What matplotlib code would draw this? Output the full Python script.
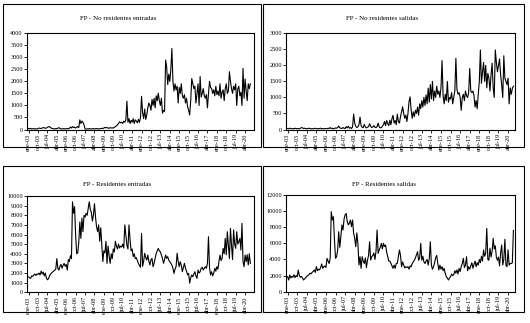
import numpy as np
import matplotlib.pyplot as plt
from matplotlib.patches import Rectangle

# ---------------------------------------------------------------
# datos mensuales (ene-03 ... ), leidos a ojo del grafico original
# ---------------------------------------------------------------
nr_entradas = [
    40, 30, 50, 20, 30, 40, 20, 30, 20, 40, 60, 50,
    40, 60, 80, 70, 50, 60, 90, 110, 120, 80, 50, 40,
    30, 20, 40, 30, 50, 80, 40, 30, 20, 30, 40, 20,
    30, 40, 30, 50, 100, 60, 120, 80, 100, 60, 90, 130,
    80, 400, 250, 350, 300, 200, 20, 10, 30, 20, 40, 30,
    20, 30, 40, 20, 30, 40, 30, 20, 40, 30, 50, 40,
    60, 90, 70, 80, 60, 50, 80, 60, 70, 60, 90, 120,
    150, 200, 250, 320, 280, 300, 250, 350, 300, 400, 1180, 300,
    450, 250, 380, 300, 450, 250, 400, 350, 280, 420, 300, 500,
    1380, 700, 450, 850, 420, 600, 900, 1100, 1000, 800, 1250, 1000,
    1300, 900, 1400, 1200, 1510, 1200, 1000, 1300, 680, 800, 750, 2890,
    2600, 1870, 2300, 2000, 2500, 3370, 2000, 1600, 1900, 1650, 1800, 1100,
    1750, 1500, 1900, 1400, 1300, 1450, 1100, 1300, 950, 800, 600, 1200,
    2120, 1900, 1700, 1800, 1100, 1500, 1900, 1000, 2200, 1350, 1500, 1700,
    1400, 1300, 1450, 900, 1500, 2000, 1750, 1700, 1500, 1650, 1400, 1800,
    1450, 1600, 1400, 1900, 1300, 1550, 1650, 1200, 1700, 1900, 1500, 1600,
    2400, 2000, 1700, 1500, 1800, 1650, 1900, 1000, 1700, 1800, 1400, 1550,
    1000, 2540, 1300, 2100, 1600, 1200, 1900, 1700, 1900,
]

nr_salidas = [
    30, 20, 40, 30, 20, 30, 20, 40, 30, 20, 30, 20,
    40, 60, 50, 30, 40, 30, 20, 30, 40, 30, 20, 30,
    20, 30, 40, 20, 30, 20, 30, 40, 20, 30, 20, 30,
    30, 20, 40, 30, 60, 30, 40, 20, 30, 50, 40, 60,
    110, 50, 40, 30, 60, 40, 30, 90, 50, 100, 40, 60,
    30, 80, 480, 200, 100, 60, 80, 150, 390, 120, 70, 60,
    160, 80, 50, 70, 90, 180, 100, 60, 80, 120, 70, 60,
    90, 200, 80, 50, 60, 100, 150, 250, 120, 280, 180, 120,
    290, 150, 340, 440, 200, 280, 150, 480, 250, 200, 400, 550,
    706, 500, 350, 450, 250, 500, 870, 1020, 600, 350, 550, 400,
    600, 500, 700, 450, 800, 650, 900, 700, 1000, 750, 1080, 800,
    1290, 850, 1400, 950, 1500, 900, 1200, 1000, 1350, 1100, 1200, 1000,
    1300, 2150, 1050, 800, 1100, 900, 1500, 850, 1000, 950, 1150, 800,
    1000, 1200, 2220, 1250, 1100, 1150, 1000, 600, 1000, 1100, 900, 1200,
    1050, 1000, 1150, 1900, 1200, 1150, 1200, 1050, 700, 900, 650, 1100,
    1500, 2480, 1440, 1800, 2090, 1500, 2000, 1300, 1750, 1600, 1200, 1700,
    2070, 1300, 1000, 2480, 2100, 1800, 2000, 2200, 1700, 1400, 1000, 2300,
    1600, 1500, 1400, 1600, 800, 1300, 1100, 1280, 1350,
]

res_entradas = [
    1600, 1500, 1450, 1700, 1650, 1800, 1900, 1750, 1900, 1850, 2000, 1800,
    2200, 1900, 2100, 1700, 2000, 1500, 1300, 1400, 1700, 1900, 2000, 2100,
    2200, 2300, 2400, 3500, 2500, 2300, 2700, 2900, 2500, 2800, 3000, 2700,
    2900, 2300, 3400, 3200, 3800, 3500, 9400, 8200, 8900, 5900, 4000, 4100,
    5200, 7300, 5600, 7700, 6300, 8000, 7800, 8200, 8000, 8700, 9400, 8600,
    8300, 7400, 8000, 9200, 7800, 6800, 6300, 7000, 5300, 6700, 5000, 3200,
    4300, 4100, 5300, 3000, 4800, 3800, 3000, 4000, 3500, 4500, 4200, 5300,
    4800, 4500, 5000, 4600, 4800, 4700, 5000, 4600, 7000, 5900, 4900, 4500,
    7000, 5500, 4300, 4500, 3700, 4000, 3500, 3600, 3300, 3000, 2800, 2600,
    6120, 2700, 3200, 4050, 3600, 3350, 3870, 3200, 2840, 3400, 3520, 2660,
    3000, 3520, 4050, 4300, 4560, 4300, 4200, 3870, 3500, 3010, 3400, 3870,
    3520, 3700, 3350, 3180, 3000, 2840, 2500, 1970, 2400, 2660, 4050, 3200,
    2660, 3180, 2800, 2140, 2600, 3010, 2490, 2200, 1800, 1970, 950, 1500,
    1800, 1620, 1900, 2140, 1700, 1450, 2320, 2000, 2140, 2490, 2600, 2320,
    2500, 2660, 2490, 3000, 5770, 2500, 1800, 2140, 1700, 1970, 2490, 2200,
    2660, 2400, 3180, 3870, 3300, 3520, 4560, 4000, 5600, 3900, 6290, 4910,
    3500, 6640, 4910, 3400, 6470, 5000, 4560, 6290, 5000, 5260, 5600, 4390,
    7150, 3180, 2660, 3870, 3180, 3900, 2840, 4000, 3000,
]

res_salidas = [
    1860, 1450, 2070, 1700, 1900, 1800, 2100, 1750, 2000, 1850, 2690, 2000,
    1800, 1900, 1700, 1450, 1600, 1750, 1900, 2000, 2100, 2300, 2200, 2400,
    2500, 2700, 2400, 3110, 2600, 2800, 2700, 3000, 3440, 2900, 3100, 3200,
    3000, 4140, 3800, 3500, 4200, 9930, 8900, 9310, 6410, 4140, 4340, 5170,
    7450, 5500, 6820, 8280, 7650, 9000, 9520, 9720, 8690, 8300, 8500, 8900,
    8070, 8900, 7240, 6620, 5580, 7300, 6000, 3310, 4340, 2900, 4340, 3800,
    3500, 4200, 3000, 3900, 4500, 6200, 3930, 4340, 4500, 4800, 4000, 5000,
    7650, 4760, 5200, 5500, 6000, 5300, 6000, 5600, 5800, 4900, 4340, 3800,
    3800, 3520, 3200, 2900, 3300, 2900, 3500, 3520, 4340, 5170, 4500, 3100,
    3700, 3300, 2950, 3100, 3000, 3100, 2800, 3200, 3100, 3500, 3700, 3900,
    4200, 4600, 4960, 3900, 4200, 6000, 3900, 4400, 3700, 3500, 3800, 4000,
    3300, 4100, 6200, 3300, 2800, 3100, 3600, 4200, 4500, 3500, 2700, 3300,
    2800, 3100, 2600, 2900, 2280, 1860, 1700, 1450, 1700, 1860, 2200, 2000,
    2100, 2600, 2300, 2700, 2200, 2900, 2500, 3100, 3500, 4140, 3000, 3300,
    4340, 2600, 3100, 2800, 3200, 3600, 2900, 3400, 3800, 3100, 3600, 3300,
    4000, 3600, 4400, 3800, 5170, 4400, 4800, 7860, 4000, 3900, 5400, 4300,
    5000, 6620, 5300, 5700, 4300, 3900, 4300, 3200, 4800, 5790, 3310, 4000,
    6500, 3300, 3100, 5200, 3300, 3500, 3500, 3600, 7600,
]

# etiquetas del eje X (cada 9 meses)
tick_labels = ['ene-03', 'oct-03', 'jul-04', 'abr-05', 'ene-06', 'oct-06',
               'jul-07', 'abr-08', 'ene-09', 'oct-09', 'jul-10', 'abr-11',
               'ene-12', 'oct-12', 'jul-13', 'abr-14', 'ene-15', 'oct-15',
               'jul-16', 'abr-17', 'ene-18', 'oct-18', 'jul-19', 'abr-20']

titles = ['FP - No residentes entradas', 'FP - No residentes salidas',
          'FP - Residentes entradas', 'FP - Residentes salidas']
series = [nr_entradas, nr_salidas, res_entradas, res_salidas]
ymax = [4000, 3000, 10000, 12000]
ystep = [500, 500, 1000, 2000]

# ---------------------------------------------------------------
# layout (pixeles del original 530x323 -> fracciones de figura)
# ---------------------------------------------------------------
W, H = 530, 323
# (left, top, right, bottom) del area de trazado en pixeles
plot_px = [(27, 33.3, 254, 129.5), (286, 33.3, 515, 129.5),
           (27, 196, 254, 292.3), (286, 195, 515, 291.7)]
# marcos exteriores de cada grafico
box_px = [(3, 4, 261, 147), (263, 4, 524, 147),
          (3, 166, 261, 312), (263, 166, 524, 312)]
# posicion del titulo (centro x, y)
title_px = [(118, 19), (382, 19), (117, 185), (384, 184)]
xlims = [(-1.5, 215.5), (-1.5, 213.5), (-1.5, 215.5), (-1.5, 213.5)]

plt.rcParams['font.family'] = ['Liberation Serif', 'DejaVu Serif']
fig = plt.figure(figsize=(W / 100, H / 100), dpi=100)
fig.patch.set_facecolor('white')

for k in range(4):
    # marco del grafico
    bl, bt, br, bb = box_px[k]
    fig.patches.append(Rectangle((bl / W, 1 - bb / H), (br - bl) / W, (bb - bt) / H,
                                 transform=fig.transFigure, fill=False,
                                 edgecolor='black', linewidth=0.8))

    l, t, r, b = plot_px[k]
    ax = fig.add_axes([l / W, 1 - b / H, (r - l) / W, (b - t) / H])
    vals = np.array(series[k])
    x = np.arange(len(vals))
    ax.plot(x, vals, color='black', linewidth=0.8)

    ax.set_xlim(*xlims[k])
    ax.set_ylim(0, ymax[k])
    ax.set_yticks(np.arange(0, ymax[k] + 1, ystep[k]))
    ax.set_xticks(np.arange(0, 9 * len(tick_labels), 9))
    ax.set_xticklabels(tick_labels, rotation=90)
    ax.tick_params(axis='both', labelsize=4.5, length=2, width=0.6,
                   direction='out', pad=1)
    for s in ax.spines.values():
        s.set_linewidth(0.8)

    tx, ty = title_px[k]
    fig.text(tx / W, 1 - ty / H, titles[k], ha='center', va='center', fontsize=5)

fig.savefig('out.png', dpi=100)
